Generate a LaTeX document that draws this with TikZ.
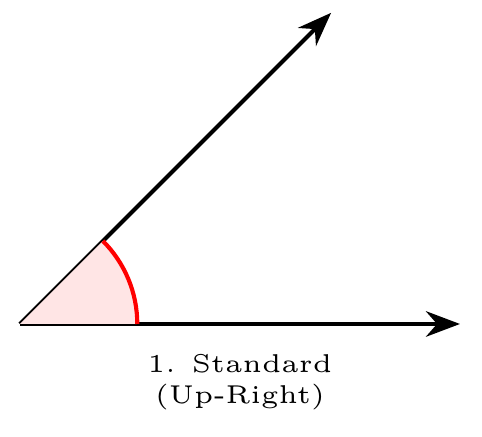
\documentclass[tikz,border=0pt]{standalone}
\usetikzlibrary{arrows.meta}
\begin{document}
\begin{tikzpicture}
[ray/.style={thick,-Stealth}, angfill/.style={fill=red!10}, angarc/.style={red,thick}]
\useasboundingbox (-0.136,-0.77) rectangle (3.15,2.209);
\path (0,0) coordinate (O)
(3,0) coordinate (A)
(45:3) coordinate (B);
\draw [ray] (O) -- (A);
\draw [ray] (O) -- (B);
\fill [angfill] (O) -- (0.8,0) arc (0:45:0.8) -- cycle;
\draw [angarc] (0.8,0) arc (0:45:0.8);
\node (lbl) [below, inner sep=0pt, align=center, font=\tiny] at (1.5,-0.2) {1. Standard\\(Up-Right)};
\end{tikzpicture}
\end{document}
